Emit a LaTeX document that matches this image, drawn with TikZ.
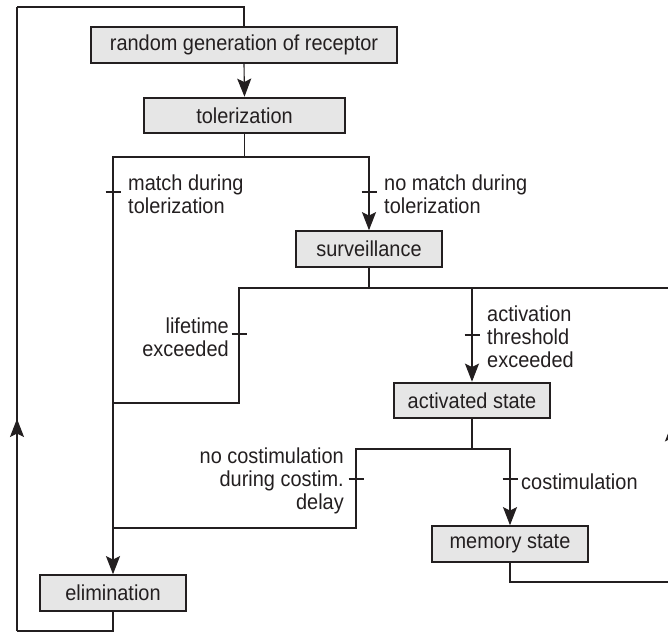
\documentclass[tikz,border=0pt]{standalone}
\usepackage{fontspec}
\setmainfont{Liberation Sans}[FakeStretch=0.92]
\usetikzlibrary{arrows.meta,decorations.markings}
\definecolor{ink}{HTML}{231F20}
\definecolor{boxfill}{HTML}{E6E6E6}
\begin{document}
\begin{tikzpicture}[x=0.03cm,y=-0.03cm,
  font=\fontsize{18.5}{19.5}\selectfont,
  state/.style={draw=ink,fill=boxfill,line width=1.6pt,minimum height=1.07cm,inner sep=0pt,text=ink},
  wire/.style={draw=ink,line width=0.95pt},
  tip/.style={-{Stealth[length=15.5pt,width=12pt,inset=3pt]}},
  midarrow/.style={decoration={markings,mark=at position #1 with {\arrow{Stealth[length=15.5pt,width=12pt,inset=3pt]}}},postaction=decorate},
  lbl/.style={inner sep=0pt,text=ink},
  tick/.style={draw=ink,line width=0.95pt}
]
\useasboundingbox (0,0) rectangle (668,633);

% states
\node[state,minimum width=9.18cm] (gen)  at (244,45)    {random generation of receptor};
\node[state,minimum width=6.03cm] (tol)  at (244.5,115.5) {tolerization};
\node[state,minimum width=4.38cm] (surv) at (369,249)   {surveillance};
\node[state,minimum width=4.68cm] (act)  at (472,400.5) {activated state};
\node[state,minimum width=4.68cm] (mem)  at (510,544)   {memory state};
\node[state,minimum width=4.38cm] (elim) at (113,593)   {elimination};

% junction points of the branching lines
\coordinate (b1L) at (113,157);
\coordinate (b1R) at (369,157);
\coordinate (b2L) at (239,288);
\coordinate (b2M) at (472,288);
\coordinate (j1)  at (113,403);
\coordinate (b3L) at (356,449);
\coordinate (b3R) at (510,449);
\coordinate (j2)  at (113,528);
\coordinate (rB)  at (672,582);
\coordinate (rT)  at (672,288);
\coordinate (lB)  at (17,631);
\coordinate (lT)  at (17,7);

% feedback loop from elimination back to generation
\draw[wire] (elim.south) |- (lB);
\draw[wire,midarrow=0.34] (lB) -- (lT);
\draw[wire] (lT) -| (gen.north);

\draw[wire,tip] (gen.south) -- (tol.north);

% tolerization outcomes
\draw[wire,tip] (tol.south) |- (b1L) -- (elim.north);
\draw[wire,tip] (tol.south) |- (b1R) -- (surv.north);

% surveillance outcomes
\draw[wire] (surv.south) |- (b2L) |- (j1);
\draw[wire,tip] (surv.south) |- (b2M) -- (act.north);

% activated state outcomes
\draw[wire] (act.south) |- (b3L) |- (j2);
\draw[wire,tip] (act.south) |- (b3R) -- (mem.north);

% memory state returns to surveillance
\draw[wire] (mem.south) |- (rB);
\draw[wire,midarrow=0.54] (rB) -- (rT);
\draw[wire] (rT) -| (surv.south);

% transition ticks
\foreach \p in {(113,192),(369,192),(239,334),(472,335),(356,479),(510,479)}
  \draw[tick] \p ++(-7.5,0) -- ++(15,0);

% transition labels
\node[lbl,anchor=west,align=left]  at (128,194) {match during\\tolerization};
\node[lbl,anchor=west,align=left]  at (384,194) {no match during\\tolerization};
\node[lbl,anchor=east,align=right] at (229,337) {lifetime\\exceeded};
\node[lbl,anchor=west,align=left]  at (487,337) {activation\\threshold\\exceeded};
\node[lbl,anchor=east,align=right] at (344,481) {no costimulation\\during costim.\\delay};
\node[lbl,anchor=west]             at (521,482) {costimulation};
\end{tikzpicture}
\end{document}
